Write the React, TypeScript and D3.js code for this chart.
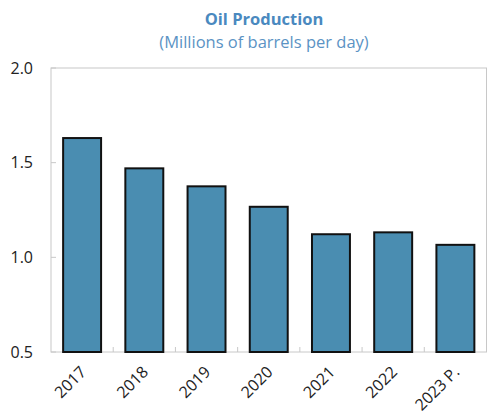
import React from "react";
import * as d3 from "d3";

const categories = ["2017", "2018", "2019", "2020", "2021", "2022", "2023 P."];
const values = [1.63, 1.47, 1.375, 1.267, 1.122, 1.132, 1.066];
const yTicks = [0.5, 1.0, 1.5, 2.0];

const W = 489;
const H = 420;
const M = { left: 51, right: 2.5, top: 68, bottom: 68 };
const FONT = "'Open Sans', 'DejaVu Sans', sans-serif";

export default function App() {
  const x = d3
    .scaleBand<string>()
    .domain(categories)
    .range([M.left, W - M.right])
    .paddingInner(0.39)
    .paddingOuter(0.195);
  const y = d3.scaleLinear().domain([0.5, 2.0]).range([H - M.bottom, M.top]);
  const step = x.step();
  const left = M.left;
  const right = W - M.right;
  const top = M.top;
  const bottom = H - M.bottom;

  return (
    <svg
      width={W}
      height={H}
      style={{ position: "absolute", left: 0, top: 0, background: "#fff" }}
    >
      <text
        x={264}
        y={25}
        textAnchor="middle"
        fontFamily={FONT}
        fontWeight="bold"
        fontSize={16.5}
        fill="#4a89bf"
      >
        Oil Production
      </text>
      <text
        x={264}
        y={48}
        textAnchor="middle"
        fontFamily={FONT}
        fontSize={16.5}
        fill="#5b93c4"
      >
        (Millions of barrels per day)
      </text>

      {/* frame */}
      <rect
        x={left}
        y={top}
        width={right - left}
        height={bottom - top}
        fill="none"
        stroke="#c8c8c8"
        strokeWidth={1}
      />

      {/* y ticks */}
      {yTicks.map((t) => (
        <g key={t}>
          <line x1={left} x2={left + 5} y1={y(t)} y2={y(t)} stroke="#c8c8c8" />
          <text
            x={33}
            y={y(t)}
            dy="0.36em"
            textAnchor="end"
            fontFamily={FONT}
            fontSize={16}
            fill="#222"
          >
            {t.toFixed(1)}
          </text>
        </g>
      ))}

      {/* x ticks between categories */}
      {categories.slice(1).map((c) => {
        const xx = (x(c) as number) - (step * x.paddingInner()) / 2;
        return (
          <line
            key={c}
            x1={xx}
            x2={xx}
            y1={bottom}
            y2={bottom - 5}
            stroke="#c8c8c8"
          />
        );
      })}

      {/* bars */}
      {categories.map((c, i) => (
        <rect
          key={c}
          x={x(c) as number}
          y={y(values[i])}
          width={x.bandwidth()}
          height={bottom - y(values[i])}
          fill="#4a8db1"
          stroke="#111"
          strokeWidth={2}
        />
      ))}

      {/* x labels */}
      {categories.map((c) => {
        const cx = (x(c) as number) + x.bandwidth() / 2 + 5;
        const cy = bottom + 21;
        return (
          <text
            key={c}
            transform={`translate(${cx},${cy}) rotate(-45)`}
            textAnchor="end"
            fontFamily={FONT}
            fontSize={16}
            fill="#222"
          >
            {c}
          </text>
        );
      })}
    </svg>
  );
}
